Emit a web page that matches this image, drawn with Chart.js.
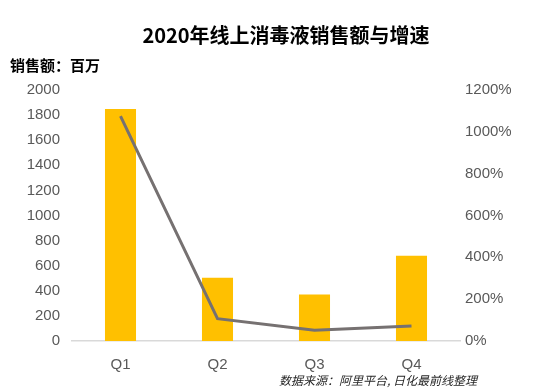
<!DOCTYPE html>
<html>
<head>
<meta charset="utf-8">
<script src="https://cdn.jsdelivr.net/npm/chart.js@4/dist/chart.umd.min.js"></script>
<style>
  html, body { margin: 0; padding: 0; background: #fff; }
  #wrap { width: 533px; height: 392px; }
</style>
</head>
<body>
<div id="wrap"><canvas id="salesChart" width="533" height="392"></canvas></div>
<script>
// data
const quarters = ['Q1', 'Q2', 'Q3', 'Q4'];
const salesValues = [1848, 503, 370, 680];      // 销售额, 百万
const growthValues = [1075, 107, 51, 72];        // 增速, %
const salesTicks = [0, 2000, 200];               // min, max, step
const growthTicks = [0, 1200, 200];

const titleText = '2020年线上消毒液销售额与增速';
const unitText = '销售额：百万';
const sourceText = '数据来源：阿里平台, 日化最前线整理';

const cjk = '"Noto Sans CJK SC", "Noto Sans", sans-serif';
const latin = '"Liberation Sans", Arial, sans-serif';

// extra texts drawn on the canvas
const textPlugin = {
  id: 'extraTexts',
  afterDraw(chart) {
    const ctx = chart.ctx;
    ctx.save();
    ctx.fillStyle = '#000';
    ctx.textBaseline = 'middle';
    ctx.textAlign = 'center';
    ctx.font = 'bold 20px ' + cjk;
    ctx.fillText(titleText, 286, 35);

    ctx.textAlign = 'left';
    ctx.font = 'bold 15px ' + cjk;
    ctx.fillText(unitText, 10, 65);

    ctx.fillStyle = '#262626';
    ctx.font = 'italic 12px ' + cjk;
    ctx.fillText(sourceText, 279, 380);
    ctx.restore();
  }
};

const ctx = document.getElementById('salesChart').getContext('2d');
const myChart = new Chart(ctx, {
  data: {
    labels: quarters,
    datasets: [
      {
        type: 'line',
        label: '增速',
        data: growthValues,
        yAxisID: 'y1',
        borderColor: '#767171',
        borderWidth: 3,
        pointRadius: 0,
        fill: false,
        tension: 0,
        order: 0,
      },
      {
        type: 'bar',
        label: '销售额',
        data: salesValues,
        yAxisID: 'y',
        backgroundColor: '#FFC000',
        categoryPercentage: 1,
        barPercentage: 0.32,
        order: 1,
      },
    ],
  },
  options: {
    responsive: false,
    animation: false,
    layout: { padding: { left: 0, right: 0, top: 90, bottom: 3 } },
    plugins: {
      legend: { display: false },
      tooltip: { enabled: false },
    },
    scales: {
      x: {
        offset: true,
        grid: { display: false, drawTicks: false },
        border: { color: '#d9d9d9', width: 1.5 },
        ticks: { color: '#595959', font: { family: latin, size: 15 }, padding: 15 },
      },
      y: {
        position: 'left',
        min: salesTicks[0],
        max: salesTicks[1],
        grid: { display: false, drawTicks: false },
        border: { display: false },
        ticks: {
          stepSize: salesTicks[2],
          color: '#595959',
          font: { family: latin, size: 15 },
          padding: 12,
          callback: (v) => String(v),
        },
        afterFit: (scale) => { scale.width = 72; },
      },
      y1: {
        position: 'right',
        min: growthTicks[0],
        max: growthTicks[1],
        grid: { display: false, drawTicks: false },
        border: { display: false },
        ticks: {
          stepSize: growthTicks[2],
          color: '#595959',
          font: { family: latin, size: 15 },
          padding: 5,
          callback: (v) => v + '%',
        },
        afterFit: (scale) => { scale.width = 73; },
      },
    },
  },
  plugins: [textPlugin],
});
</script>
</body>
</html>
